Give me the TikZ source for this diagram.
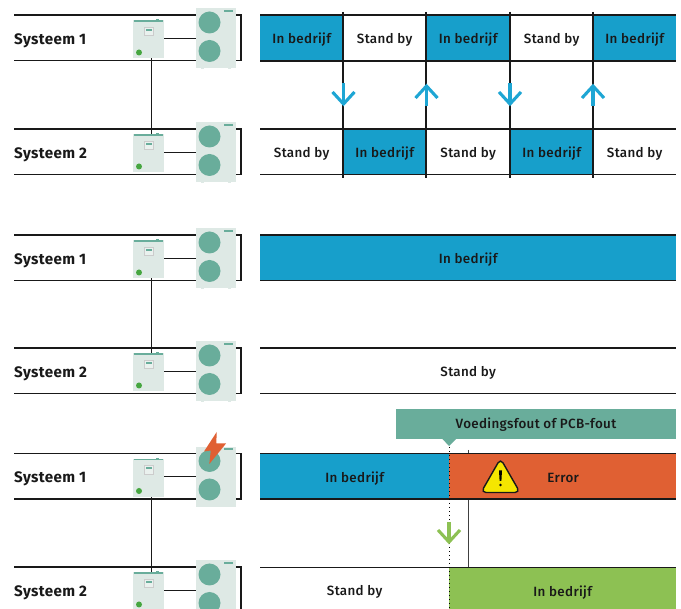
\documentclass[tikz,border=0pt]{standalone}
\usepackage{fontspec}
\setmainfont{Fira Sans}
\newfontfamily\lblfont[LetterSpace=2.4]{Fira Sans Medium}
\newfontfamily\lblbold[LetterSpace=2.4]{Fira Sans}
\usetikzlibrary{calc}
\definecolor{runblue}{HTML}{179FCB}
\definecolor{arrblue}{HTML}{1EA6D4}
\definecolor{errorange}{HTML}{E06033}
\definecolor{okgreen}{HTML}{8DC153}
\definecolor{tealbar}{HTML}{69AD9B}
\definecolor{unitbg}{HTML}{DEE9E5}
\definecolor{dotgreen}{HTML}{46A640}
\definecolor{warnyel}{HTML}{F5E600}
\tikzset{
  x=1pt,y=-1pt,
  lne/.style={line width=1.2pt,black!90},
  syslabel/.style={anchor=west,inner sep=0pt,font=\lblbold\bfseries\fontsize{15.2}{16}\selectfont,text=black!90},
  celltxt/.style={inner sep=0pt,font=\lblfont\fontsize{13.4}{14}\selectfont,text=black!90,yshift=-1.5pt},
  indoor/.style={fill=unitbg,inner sep=0pt,minimum width=31pt,minimum height=38pt,anchor=north west},
  outdoor/.style={fill=unitbg,inner sep=0pt,minimum width=40pt,minimum height=60pt,anchor=north west},
  fan/.style={fill=tealbar},
  arrowmark/.style={line width=3.1pt,miter limit=10},
  cellbox/.style={inner sep=0pt,anchor=north west,minimum height=46pt},
}
% #1 name, #2 y of the top line, #3 label
\newcommand{\sysrow}[3]{%
  \draw[lne] (14,#2) -- (241,#2) -- (241,#2+45.5) -- (14,#2+45.5);
  \node[syslabel] (#1lab) at (14,#2+25.5) {#3};
  \node[indoor] (#1in) at (133,#2+5) {};
  \node[outdoor] (#1out) at (196,#2-7) {};
  \fill[tealbar] (134,#2+5.3) rectangle (163,#2+7);
  \fill[tealbar] (155.5,#2+4.3) rectangle (159,#2+5.3);
  \draw[black!20,line width=.5pt,fill=white!35!unitbg] (144,#2+12) rectangle (153,#2+20.7);
  \fill[tealbar] (146,#2+14) rectangle (152,#2+16);
  \fill[dotgreen] (139,#2+37.5) circle (3);
  \fill[fan] (209.5,#2+7.5) circle (11);
  \fill[fan] (209.5,#2+36) circle (11);
  \fill[tealbar] (224,#2-5.3) rectangle (233,#2-3.3);
  \fill[unitbg] (201,#2+53) rectangle (203.5,#2+54);
  \fill[unitbg] (228,#2+53) rectangle (230.5,#2+54);
  \draw[lne] ([yshift=1pt]#1in.east) -- (#1out.west);
}
\newcommand{\cellat}[6]{% name, x, y, width, fill, text
  \node[cellbox,fill=#5,minimum width=#4 pt] (#1) at (#2,#3) {};
  \node[celltxt] at (#1.center) {#6};
}
\begin{document}
\begin{tikzpicture}
\useasboundingbox (0,0) rectangle (681,609);
\fill[white] (0,0) rectangle (681,609);
% -------- group 1
\sysrow{a}{15}{Systeem 1}
\sysrow{b}{129}{Systeem 2}
\draw[lne] ([xshift=2.5pt]ain.south) -- ([xshift=2.5pt]bin.north);
\cellat{a1}{260}{15}{83}{runblue}{In bedrijf}
\cellat{a2}{343}{15}{83}{white}{Stand by}
\cellat{a3}{426}{15}{84}{runblue}{In bedrijf}
\cellat{a4}{510}{15}{83}{white}{Stand by}
\cellat{a5}{593}{15}{83}{runblue}{In bedrijf}
\cellat{b1}{260}{129}{83}{white}{Stand by}
\cellat{b2}{343}{129}{83}{runblue}{In bedrijf}
\cellat{b3}{426}{129}{84}{white}{Stand by}
\cellat{b4}{510}{129}{83}{runblue}{In bedrijf}
\cellat{b5}{593}{129}{83}{white}{Stand by}
\foreach \yy in {15,61,129,174.5}{\draw[lne] (260,\yy) -- (676,\yy);}
\foreach \xx in {343,426,510,593}{\draw[lne] (\xx,12) -- (\xx,178);}
\foreach \xx in {343.5,510}{
  \draw[arrowmark,arrblue] (\xx,83) -- (\xx,104);
  \draw[arrowmark,arrblue] (\xx-11,92) -- (\xx,104) -- (\xx+11,92);}
\foreach \xx in {426.5,593}{
  \draw[arrowmark,arrblue] (\xx,106) -- (\xx,86);
  \draw[arrowmark,arrblue] (\xx-11,98) -- (\xx,86) -- (\xx+11,98);}
% -------- group 2
\sysrow{c}{235}{Systeem 1}
\sysrow{d}{348}{Systeem 2}
\draw[lne] ([xshift=2.5pt]cin.south) -- ([xshift=2.5pt]din.north);
\cellat{c1}{260}{235}{416}{runblue}{In bedrijf}
\cellat{d1}{260}{348}{416}{white}{Stand by}
\foreach \yy in {235,280.5,348,393.5}{\draw[lne] (260,\yy) -- (676,\yy);}
% -------- group 3
\sysrow{e}{453.5}{Systeem 1}
\sysrow{f}{567}{Systeem 2}
\draw[lne] ([xshift=2.5pt]ein.south) -- ([xshift=2.5pt]fin.north);
\fill[errorange] (216.7,432) -- (204,451.5) -- (210.8,450.5) -- (209.3,464) -- (226,443.5) -- (216.3,443.5) -- cycle;
\draw[line width=.8pt,black!75] (468,450) -- (468,567);
\cellat{e1}{260}{453.5}{189}{runblue}{In bedrijf}
\cellat{e2}{449}{453.5}{227}{errorange}{\hspace*{1pt}Error}
\cellat{f1}{260}{567.5}{189}{white}{Stand by}
\cellat{f2}{449}{567.5}{227}{okgreen}{In bedrijf}
\foreach \yy in {453.5,499,567.5}{\draw[lne] (260,\yy) -- (676,\yy);}
\node[fill=tealbar,inner sep=0pt,minimum width=280pt,minimum height=30.5pt,anchor=north west] (banner) at (396,408.5) {};
\node[celltxt] at (536,423.5) {Voedingsfout of PCB-fout};
\fill[tealbar] (442,438.5) -- (456.5,438.5) -- (449,446) -- cycle;
\draw[line width=1pt,black,dash pattern=on 1.5pt off 2.5pt] (449,447) -- (449,609);
\draw[arrowmark,okgreen] (449,522) -- (449,542);
\draw[arrowmark,okgreen] (438,530) -- (449,542) -- (460,530);
% warning triangle
\fill[warnyel,draw=black!90,line width=1.4pt,line join=round,rounded corners=5pt] (500.5,458.5) -- (520,492.5) -- (481,492.5) -- cycle;
\fill[black] (499,470.5) -- (502,470.5) -- (501.4,481) -- (499.6,481) -- cycle;
\fill[black] (500.5,485) circle (1.4);
\end{tikzpicture}
\end{document}
